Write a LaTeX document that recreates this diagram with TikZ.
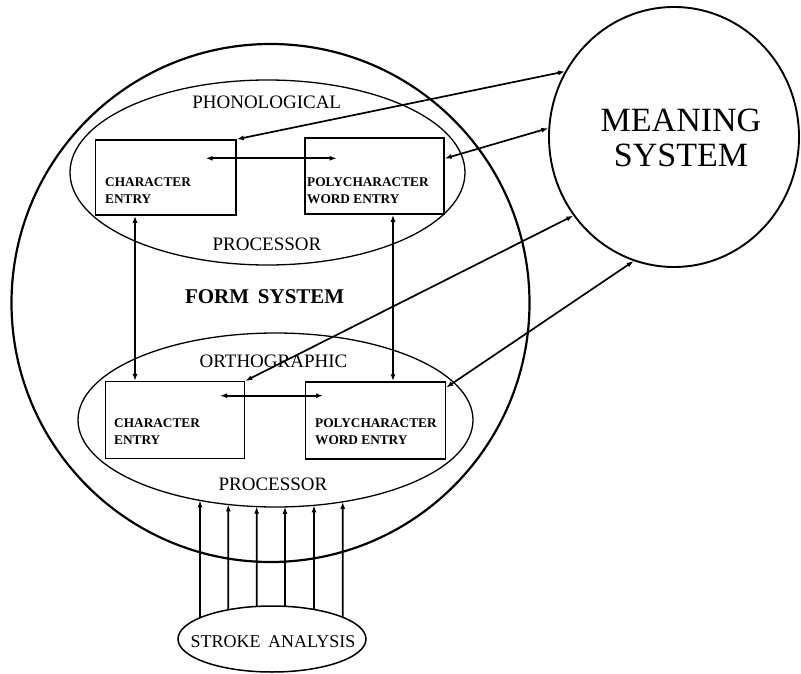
\documentclass[tikz,border=0pt]{standalone}
\usepackage{fontspec}
\setmainfont{Liberation Serif}
\usetikzlibrary{shapes.geometric,arrows.meta,intersections,calc}
\begin{document}
\begin{tikzpicture}[x=1pt,y=-1pt,
  arr/.style={line width=1.7pt,{Latex[length=7pt,width=5pt]}-{Latex[length=7pt,width=5pt]}},
  uparr/.style={line width=1.7pt,-{Latex[length=7pt,width=5pt]}},
  boxn/.style={draw,line width=1.5pt,rectangle,inner sep=0pt},
  ell/.style={draw,ellipse,inner sep=0pt,line width=1.3pt},
  lbl/.style={font=\fontsize{19}{21}\selectfont,anchor=base,inner sep=0pt},
  btxt/.style={font=\bfseries\fontsize{13.3}{17}\selectfont,anchor=base west,inner sep=0pt},
]
\useasboundingbox (0,0) rectangle (801,674);

% containers
\node[draw,circle,line width=2.2pt,minimum size=518pt,inner sep=0pt] (form) at (270.5,303) {};
\node[ell,minimum width=395pt,minimum height=185pt] (phon) at (267.5,172.5) {};
\node[ell,minimum width=395pt,minimum height=174pt,name path=orthoP] (ortho) at (275.5,420) {};
\node[ell,line width=1.9pt,minimum width=250pt,minimum height=260pt] (meaning) at (674,137) {};
\node[ell,line width=1.5pt,minimum width=188pt,minimum height=66pt,name path=strokeP] (stroke) at (272,639) {};

% labels
\node[lbl] (phonlbl) at (266.7,108.3) {PHONOLOGICAL};
\node[lbl] (phonproc) at (267,250) {PROCESSOR};
\node[lbl,font=\bfseries\fontsize{21}{23}\selectfont] (formlbl) at (264.7,303) {FORM\, SYSTEM};
\node[lbl] (ortholbl) at (273.5,367) {ORTHOGRAPHIC};
\node[lbl] (orthoproc) at (273,490) {PROCESSOR};
\node[lbl,font=\fontsize{18}{20}\selectfont] (strokelbl) at (273,647) {STROKE\, ANALYSIS};
\node[lbl,font=\fontsize{34}{35}\selectfont] (meanlbl1) at (681,132) {MEANING};
\node[lbl,font=\fontsize{34}{35}\selectfont] (meanlbl2) at (681,167) {SYSTEM};

% boxes
\node[boxn,minimum width=140.5pt,minimum height=75pt] (charU) at (165.75,177.5) {};
\node[boxn,minimum width=139pt,minimum height=76pt] (polyU) at (374.5,176) {};
\node[boxn,minimum width=138.8pt,minimum height=76.6pt] (charL) at (175.1,420) {};
\node[boxn,minimum width=140pt,minimum height=77pt] (polyL) at (375.5,420.5) {};

\node[btxt] (cu1) at (105,186.5) {CHARACTER};
\node[btxt] (cu2) at (105,203.5) {ENTRY};
\node[btxt] (pu1) at (307,186.5) {POLYCHARACTER};
\node[btxt] (pu2) at (307,203.5) {WORD ENTRY};
\node[btxt] (cl1) at (114,427.5) {CHARACTER};
\node[btxt] (cl2) at (114,444.5) {ENTRY};
\node[btxt] (pl1) at (315,427.5) {POLYCHARACTER};
\node[btxt] (pl2) at (315,444.5) {WORD ENTRY};

% horizontal links inside processors
\coordinate (h1a) at (205.7,158.3);
\coordinate (h1b) at (336.7,158.3);
\draw[arr] (h1a) -- (h1b);
\coordinate (h2a) at (220,395.7);
\coordinate (h2b) at (323,395.7);
\draw[arr] (h2a) -- (h2b);

% vertical links
\coordinate (vx1) at (135,0);
\coordinate (vx2) at (393,0);
\draw[arr] (charU.south -| vx1) -- (charL.north -| vx1);
\draw[arr] (polyU.south -| vx2) -- (polyL.north -| vx2);

% links to meaning system
\draw[arr] (charU.north east) -- (meaning.149.6);
\draw[arr] (polyU.14) -- (meaning.176.8);
\draw[arr] (charL.north east) -- (meaning.218.8);
\draw[arr] (polyL.25) -- (meaning.252);

% stroke analysis inputs
\foreach \x [count=\i] in {200,228.3,256.7,285,314,342.7} {
  \path[name path=vline\i] (\x,450) -- (\x,640);
  \path[name intersections={of=orthoP and vline\i, by={top\i}}];
  \path[name intersections={of=strokeP and vline\i, by={bot\i}}];
  \draw[uparr] (bot\i) -- (top\i);
}
\end{tikzpicture}
\end{document}
